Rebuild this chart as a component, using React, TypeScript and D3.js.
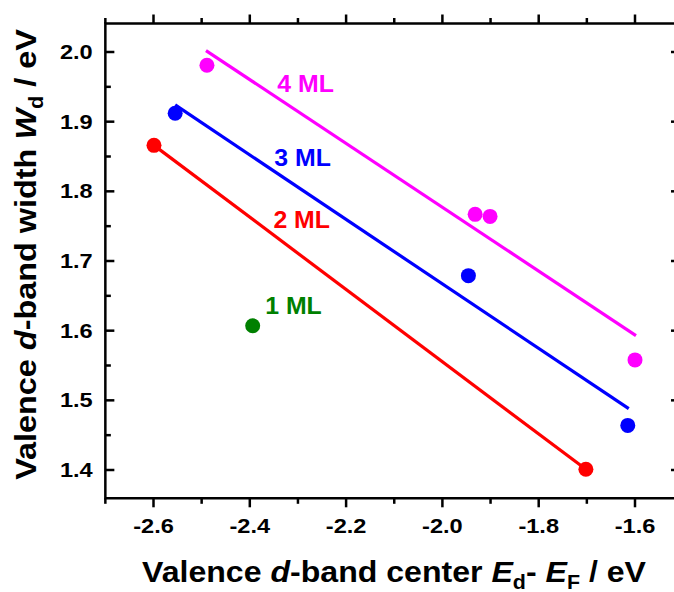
import React from "react";
import * as d3 from "d3";

// ---- data ----
const series = ["1 ML", "2 ML", "3 ML", "4 ML"];
const colors = ["#008000", "#ff0000", "#0000ff", "#ff00ff"];

const pts1X = [-2.394];
const pts1Y = [1.607];
const pts2X = [-2.599, -1.702];
const pts2Y = [1.866, 1.401];
const pts3X = [-2.555, -1.946, -1.615];
const pts3Y = [1.912, 1.679, 1.464];
const pts4X = [-2.489, -1.932, -1.901, -1.6];
const pts4Y = [1.981, 1.767, 1.764, 1.558];

// linear fit lines (start/end)
const fit2X = [-2.599, -1.702];
const fit2Y = [1.866, 1.401];
const fit3X = [-2.555, -1.613];
const fit3Y = [1.924, 1.488];
const fit4X = [-2.491, -1.598];
const fit4Y = [2.002, 1.593];

// label anchor positions in data units (text start, baseline)
const labelX = [-2.368, -2.351, -2.349, -2.343];
const labelY = [1.6235, 1.747, 1.837, 1.943];

const xMajor = [-2.6, -2.4, -2.2, -2.0, -1.8, -1.6];
const xMinor = [-2.7, -2.5, -2.3, -2.1, -1.9, -1.7];
const yMajor = [1.4, 1.5, 1.6, 1.7, 1.8, 1.9, 2.0];
const yMinor = [1.45, 1.55, 1.65, 1.75, 1.85, 1.95];

const W = 674;
const H = 592;

export default function App() {
  const x = d3.scaleLinear().domain([-2.6, -1.6]).range([153.5, 635]);
  const y = d3.scaleLinear().domain([1.4, 2.0]).range([470, 52]);
  const left = x(-2.7);
  const right = 676;
  const top = 23.5;
  const bottom = 498.3;
  const font = "'Liberation Sans', Arial, sans-serif";
  const line = d3.line<[number, number]>().x((d) => x(d[0])).y((d) => y(d[1]));

  const pts = [
    [pts1X, pts1Y],
    [pts2X, pts2Y],
    [pts3X, pts3Y],
    [pts4X, pts4Y],
  ];
  const fits = [
    null,
    [fit2X, fit2Y],
    [fit3X, fit3Y],
    [fit4X, fit4Y],
  ];

  return (
    <svg
      width={W}
      height={H}
      style={{ position: "absolute", left: 0, top: 0, background: "#fff" }}
      fontFamily={font}
      fontWeight="bold"
    >
      <rect x={0} y={0} width={W} height={H} fill="#fff" />
      {/* fit lines */}
      {fits.map((f, i) =>
        f ? (
          <path
            key={"f" + i}
            d={line(f[0].map((v, j) => [v, f[1][j]] as [number, number])) || ""}
            stroke={colors[i]}
            strokeWidth={3.2}
            fill="none"
          />
        ) : null
      )}
      {/* points */}
      {pts.map((p, i) =>
        p[0].map((v, j) => (
          <circle key={"p" + i + "-" + j} cx={x(v)} cy={y(p[1][j])} r={7.5} fill={colors[i]} />
        ))
      )}
      {/* labels */}
      {series.map((s, i) => (
        <text
          key={"l" + i}
          transform={`translate(${x(labelX[i])},${y(labelY[i])}) scale(1.08,1)`}
          fontSize={23}
          fill={colors[i]}
        >
          {s}
        </text>
      ))}
      {/* frame */}
      <path
        d={`M${right},${top}H${left}V${bottom}H${right}`}
        stroke="#000"
        strokeWidth={2.5}
        fill="none"
      />
      <line x1={right} x2={right} y1={top} y2={bottom} stroke="#000" strokeWidth={2.5} />
      {/* x ticks bottom & top */}
      {xMajor.map((v) => (
        <g key={"xM" + v}>
          <line x1={x(v)} x2={x(v)} y1={bottom} y2={bottom + 9} stroke="#000" strokeWidth={2.5} />
          <line x1={x(v)} x2={x(v)} y1={top} y2={top - 9} stroke="#000" strokeWidth={2.5} />
          <text
            transform={`translate(${x(v)},${533}) scale(1.18,1)`}
            textAnchor="middle"
            fontSize={20}
            fill="#000"
          >
            {v.toFixed(1)}
          </text>
        </g>
      ))}
      {xMinor.map((v) => (
        <g key={"xm" + v}>
          <line x1={x(v)} x2={x(v)} y1={bottom} y2={bottom + 5.5} stroke="#000" strokeWidth={2.5} />
          <line x1={x(v)} x2={x(v)} y1={top} y2={top - 5.5} stroke="#000" strokeWidth={2.5} />
        </g>
      ))}
      {/* y ticks */}
      {yMajor.map((v) => (
        <g key={"yM" + v}>
          <line x1={left} x2={left + 9} y1={y(v)} y2={y(v)} stroke="#000" strokeWidth={2.5} />
          <line x1={right} x2={right - 5} y1={y(v)} y2={y(v)} stroke="#000" strokeWidth={2.5} />
          <text
            transform={`translate(${92.7},${y(v) + 7}) scale(1.18,1)`}
            textAnchor="end"
            fontSize={20}
            fill="#000"
          >
            {v.toFixed(1)}
          </text>
        </g>
      ))}
      {yMinor.map((v) => (
        <line key={"ym" + v} x1={left} x2={left + 5.5} y1={y(v)} y2={y(v)} stroke="#000" strokeWidth={2.5} />
      ))}
      {/* x title */}
      <text
        transform={`translate(394,581.7) scale(1.07,1)`}
        textAnchor="middle"
        fontSize={30}
        fill="#000"
      >
        <tspan>Valence </tspan>
        <tspan fontStyle="italic">d</tspan>
        <tspan>-band center </tspan>
        <tspan fontStyle="italic">E</tspan>
        <tspan fontSize={20} dy={7}>d</tspan>
        <tspan dy={-7}>- </tspan>
        <tspan fontStyle="italic">E</tspan>
        <tspan fontSize={20} dy={7}>F</tspan>
        <tspan dy={-7}> / eV</tspan>
      </text>
      {/* y title */}
      <text
        transform={`translate(36,254.5) rotate(-90) scale(1.08,1)`}
        textAnchor="middle"
        fontSize={30}
        fill="#000"
      >
        <tspan>Valence </tspan>
        <tspan fontStyle="italic">d</tspan>
        <tspan>-band width </tspan>
        <tspan fontStyle="italic">W</tspan>
        <tspan fontSize={20} dy={7}>d</tspan>
        <tspan dy={-7}> / eV</tspan>
      </text>
    </svg>
  );
}
